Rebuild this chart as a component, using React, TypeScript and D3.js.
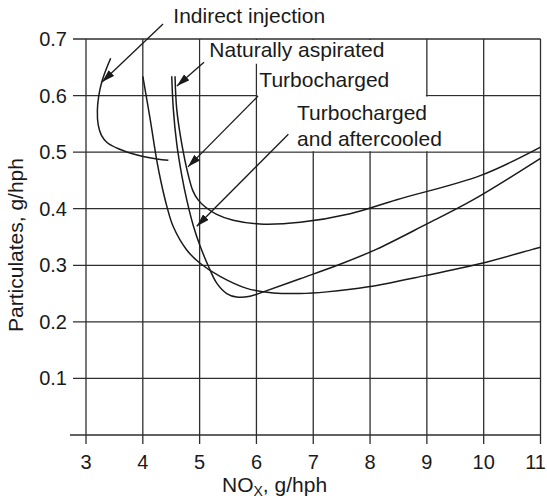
import React from 'react';
import * as d3 from 'd3';

type Pt = [number, number];

const xTicks = [3, 4, 5, 6, 7, 8, 9, 10, 11];
const yTicks = [0, 0.1, 0.2, 0.3, 0.4, 0.5, 0.6, 0.7];
const yTickLabels = ['', '0.1', '0.2', '0.3', '0.4', '0.5', '0.6', '0.7'];

const indirectInjection: Pt[] = [
  [3.435, 0.666], [3.36, 0.648], [3.28, 0.625], [3.225, 0.6], [3.2, 0.573], [3.215, 0.548],
  [3.27, 0.53], [3.37, 0.517], [3.57, 0.506], [3.9, 0.495], [4.25, 0.488], [4.45, 0.4855],
];

const naturallyAspirated: Pt[] = [
  [4.567, 0.634], [4.597, 0.576], [4.685, 0.515], [4.8, 0.4595], [4.88, 0.432], [4.97, 0.416],
  [5.1, 0.403], [5.3, 0.39], [5.59, 0.3795], [6.06, 0.373], [6.77, 0.376], [7.65, 0.391],
  [8.47, 0.416], [9.95, 0.459], [11, 0.509],
];

const turbocharged: Pt[] = [
  [4.509, 0.634], [4.537, 0.576], [4.597, 0.515], [4.685, 0.4595], [4.773, 0.416], [4.889, 0.37],
  [5.007, 0.3345], [5.153, 0.2987], [5.301, 0.2684], [5.477, 0.2501], [5.653, 0.2439], [5.887, 0.2452],
  [6.121, 0.253], [6.768, 0.2762], [7.472, 0.3018], [8.118, 0.3286], [8.968, 0.3714], [9.819, 0.416],
  [11, 0.489],
];

const turbochargedAftercooled: Pt[] = [
  [4.0, 0.634], [4.13, 0.558], [4.245, 0.486], [4.317, 0.449], [4.421, 0.405], [4.537, 0.368],
  [4.773, 0.327], [5.007, 0.3036], [5.359, 0.2804], [5.829, 0.2592], [6.298, 0.2512], [6.768, 0.2501],
  [7.238, 0.253], [7.97, 0.262], [8.968, 0.2817], [9.967, 0.3036], [10.875, 0.3286], [11, 0.332],
];

const seriesList: Pt[][] = [indirectInjection, naturallyAspirated, turbocharged, turbochargedAftercooled];

// annotation labels: text lines, anchor (NOx, particulates) of first baseline
const labelTexts: string[][] = [
  ['Indirect injection'],
  ['Naturally aspirated'],
  ['Turbocharged'],
  ['Turbocharged', 'and aftercooled'],
];
const labelAnchors: Pt[] = [[4.537, 0.7283], [5.171, 0.6673], [6.051, 0.6152], [6.715, 0.5568]];

// arrows: from (label side) -> to (curve)
const arrowFrom: Pt[] = [[4.356, 0.7265], [5.077, 0.659], [6.028, 0.599], [6.562, 0.5316]];
const arrowTo: Pt[] = [[3.282, 0.624], [4.6, 0.617], [4.795, 0.474], [4.95, 0.369]];

// blank (white) regions of the grid behind the labels: [x0, x1, yTop, yBottom]
const blankAreas: [number, number, number, number][] = [
  [5, 9, 0.7, 0.658],
  [6, 9, 0.658, 0.5],
  [9, 10, 0.6, 0.5],
];

const W = 547;
const H = 498;
const FONT = "'Liberation Sans', Arial, Helvetica, sans-serif";
const INK = '#1a1a1a';
const GRID = '#2e2e2e';

export default function App() {
  const x = d3.scaleLinear().domain([3, 11]).range([86, 540.5]);
  const y = d3.scaleLinear().domain([0, 0.7]).range([435, 39]);
  const line = d3
    .line<Pt>()
    .x((d) => x(d[0]))
    .y((d) => y(d[1]))
    .curve(d3.curveCatmullRom.alpha(0.5));

  const gridLeft = 73;
  const lineH = 25.5;
  const lastTick = xTicks[xTicks.length - 1];

  return (
    <svg
      width={W}
      height={H}
      viewBox={`0 0 ${W} ${H}`}
      style={{ position: 'absolute', left: 0, top: 0, background: '#fff' }}
      fontFamily={FONT}
    >
      <defs>
        <marker
          id="ah"
          markerUnits="userSpaceOnUse"
          markerWidth={13}
          markerHeight={8}
          refX={13}
          refY={4}
          orient="auto"
        >
          <path d="M0,0 L13,4 L0,8 Z" fill={INK} />
        </marker>
      </defs>
      <rect x={0} y={0} width={W} height={H} fill="#fff" />

      {/* vertical grid lines */}
      {xTicks.map((t) => (
        <line
          key={`vx${t}`}
          x1={x(t)}
          x2={x(t)}
          y1={y(0.7)}
          y2={y(0) + 9}
          stroke={GRID}
          strokeWidth={1.3}
        />
      ))}
      {/* horizontal grid lines */}
      {yTicks.map((t) => (
        <line
          key={`hy${t}`}
          x1={t === 0 ? gridLeft - 3 : gridLeft}
          x2={x(11)}
          y1={y(t)}
          y2={y(t)}
          stroke={GRID}
          strokeWidth={1.3}
        />
      ))}

      {/* blank areas behind labels */}
      {blankAreas.map((b, i) => {
        const left = x(b[0]) + (i === 2 ? -2 : 1);
        const right = x(b[1]) - 1;
        const top = y(b[2]) + (i === 1 ? -1 : 1);
        const bottom = y(b[3]) - (i === 0 ? -1 : 1);
        return <rect key={`b${i}`} x={left} y={top} width={right - left} height={bottom - top} fill="#fff" />;
      })}

      {/* curves */}
      {seriesList.map((s, i) => (
        <path key={`s${i}`} d={line(s) ?? ''} fill="none" stroke={INK} strokeWidth={1.5} />
      ))}

      {/* arrows */}
      {arrowFrom.map((f, i) => (
        <line
          key={`a${i}`}
          x1={x(f[0])}
          y1={y(f[1])}
          x2={x(arrowTo[i][0])}
          y2={y(arrowTo[i][1])}
          stroke={INK}
          strokeWidth={1.3}
          markerEnd="url(#ah)"
        />
      ))}

      {/* annotation labels */}
      {labelTexts.map((lines, i) => (
        <text key={`l${i}`} x={x(labelAnchors[i][0])} y={y(labelAnchors[i][1])} fontSize={21} fill={INK}>
          {lines.map((t, j) => (
            <tspan key={j} x={x(labelAnchors[i][0])} dy={j === 0 ? 0 : lineH}>
              {t}
            </tspan>
          ))}
        </text>
      ))}

      {/* y tick labels */}
      {yTicks.map((t, i) => (
        <text key={`yt${t}`} x={67} y={y(t) + 7} textAnchor="end" fontSize={20} fill={INK}>
          {yTickLabels[i]}
        </text>
      ))}
      {/* x tick labels */}
      {xTicks.map((t) => (
        <text
          key={`xt${t}`}
          x={t === lastTick ? W - 1 : x(t)}
          y={469}
          textAnchor={t === lastTick ? 'end' : 'middle'}
          fontSize={20}
          fill={INK}
        >
          {t}
        </text>
      ))}

      {/* axis titles */}
      <text x={222} y={492} fontSize={21} fill={INK}>
        NO
        <tspan fontSize={14} dy={4}>
          X
        </tspan>
        <tspan dy={-4}>, g/hph</tspan>
      </text>
      <text
        x={23}
        y={245}
        fontSize={21}
        fill={INK}
        textAnchor="middle"
        transform="rotate(-90, 23, 245)"
      >
        Particulates, g/hph
      </text>
    </svg>
  );
}
